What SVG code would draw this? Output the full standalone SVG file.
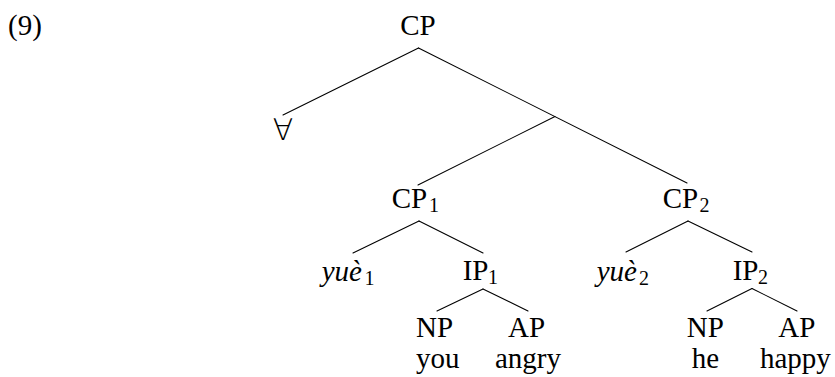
<svg xmlns="http://www.w3.org/2000/svg" width="835" height="377" viewBox="0 0 835 377">
<style>
text{font-family:"Liberation Serif","Times New Roman",serif;font-size:29px;fill:#000}
.sub{font-size:20px}
.it{font-style:italic}
.edges line{stroke:#000;stroke-width:1.1;stroke-linecap:round}
</style>
<rect width="835" height="377" fill="#fff"/>
<text x="8" y="35">(9)</text>
<g id="edges" class="edges">
<line x1="418.5" y1="48" x2="283" y2="115"/>
<line x1="418.5" y1="48" x2="687" y2="183"/>
<line x1="555" y1="116.5" x2="418" y2="185"/>
<line x1="419" y1="221" x2="353" y2="253"/>
<line x1="419" y1="221" x2="483" y2="253"/>
<line x1="483" y1="289" x2="437" y2="311"/>
<line x1="483" y1="289" x2="528" y2="311"/>
<line x1="688" y1="221" x2="626" y2="252"/>
<line x1="688" y1="221" x2="752" y2="252"/>
<line x1="752" y1="288.5" x2="707" y2="311"/>
<line x1="752" y1="288.5" x2="797" y2="311"/>
</g>
<g id="cp"><text x="418" y="35" text-anchor="middle">CP</text></g>
<g id="forall"><text x="283" y="140" text-anchor="middle" style="font-family:'DejaVu Sans',sans-serif;font-size:30px;font-weight:200">∀</text></g>
<g id="cp1"><text x="391.7" y="208">CP<tspan class="sub" x="429" y="212">1</tspan></text></g>
<g id="yue1"><text x="321.7" y="281"><tspan class="it">yuè</tspan><tspan class="sub" x="364.5" y="285">1</tspan></text></g>
<g id="ip1"><text x="462.7" y="280">IP<tspan class="sub" x="488" y="284">1</tspan></text></g>
<g id="np1"><text x="416" y="336.5">NP</text><text x="416" y="368">you</text></g>
<g id="ap1"><text x="508" y="336.5">AP</text><text x="495" y="368">angry</text></g>
<g id="cp2"><text x="662.7" y="208">CP<tspan class="sub" x="699.5" y="212">2</tspan></text></g>
<g id="yue2"><text x="596.7" y="281"><tspan class="it">yuè</tspan><tspan class="sub" x="639" y="285">2</tspan></text></g>
<g id="ip2"><text x="732.7" y="280">IP<tspan class="sub" x="758" y="284">2</tspan></text></g>
<g id="np2"><text x="686.7" y="336.5">NP</text><text x="691.7" y="368">he</text></g>
<g id="ap2"><text x="778.3" y="336.5">AP</text><text x="760" y="368">happy</text></g>
</svg>
